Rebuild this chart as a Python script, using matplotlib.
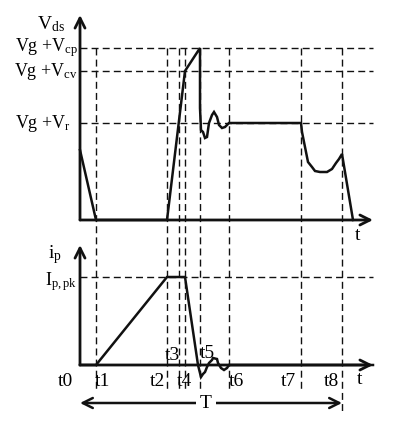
import matplotlib
matplotlib.use("Agg")
import matplotlib.pyplot as plt

plt.rcParams['font.family'] = ['Liberation Serif', 'DejaVu Serif']
plt.rcParams['mathtext.fontset'] = 'custom'
plt.rcParams['mathtext.rm'] = 'Liberation Serif'
plt.rcParams['mathtext.it'] = 'Liberation Serif'

# ---- data ----
t_marks = [16, 87, 99, 105, 120, 149, 221, 262]          # t1..t8
t_labels = ['t1', 't2', 't3', 't4', 't5', 't6', 't7', 't8']
v_levels = [172, 149, 97]                                  # Vg+Vcp, Vg+Vcv, Vg+Vr
v_level_labels = [r'Vg +V$_{\mathregular{cp}}$', r'Vg +V$_{\mathregular{cv}}$', r'Vg +V$_{\mathregular{r}}$']
ip_peak = 88

vds_t = [0, 16, 87, 105, 120, 120, 121, 123, 125, 127, 129, 132, 134, 137, 139, 142, 145, 148, 149,
         221, 222, 224, 226, 228, 232, 235, 240, 247, 252, 256, 259, 262, 273]
vds_v = [70, 0, 0, 149, 172, 112, 90, 88, 82, 83, 97, 105, 108, 103, 95, 92, 93, 96, 97,
         97, 88, 78, 68, 58, 53, 49, 48, 48, 51, 57, 61, 66, 0]

ip_t = [0, 16, 87, 105, 118, 121, 123, 125, 127, 129, 132, 133, 137, 138, 141, 144, 147, 149, 293]
ip_v = [0, 0, 88, 88, 0, -12, -9, -7, -2, 2, 5, 7, 6, 2, -3, -5, -3, 0, 0]

W, H = 400, 430
fig = plt.figure(figsize=(4, 4.3), dpi=100)
ax1 = fig.add_axes([80 / W, (H - 220) / H, 300 / W, 210 / H])
ax2 = fig.add_axes([80 / W, (H - 365) / H, 300 / W, 125 / H])
for ax, yl in ((ax1, 210), (ax2, 125)):
    ax.set_xlim(0, 300)
    ax.set_ylim(0, yl)
    ax.axis('off')

col = '#111111'
fs = 13
fs_t = 14
dash = (0, (5, 3))
arrow_kw = dict(arrowstyle='->', lw=2.0, color=col, mutation_scale=18, shrinkA=0, shrinkB=0)

# axes arrows
ax1.annotate('', xy=(0, 205), xytext=(0, 0), arrowprops=arrow_kw)
ax1.annotate('', xy=(293, 0), xytext=(0, 0), arrowprops=arrow_kw)
ax2.annotate('', xy=(0, 120), xytext=(0, 0), arrowprops=arrow_kw)
ax2.annotate('', xy=(293, 0), xytext=(0, 0), arrowprops=arrow_kw)

# dashed guide lines
for v in v_levels:
    ax1.plot([0, 293], [v, v], ls=dash, lw=1.0, color=col)
ax2.plot([0, 293], [ip_peak, ip_peak], ls=dash, lw=1.0, color=col)
for i, t in enumerate(t_marks):
    bottom = -193 if i == len(t_marks) - 1 else -170
    ax1.plot([t, t], [v_levels[0], bottom], ls=dash, lw=1.0, color=col, clip_on=False)

# waveforms
ax1.plot(vds_t, vds_v, color=col, lw=1.8, solid_joinstyle='miter', clip_on=False)
ax2.plot(ip_t, ip_v, color=col, lw=1.8, solid_joinstyle='miter', clip_on=False)

# labels upper
ax1.text(-15, 196, r'V$_{\mathregular{ds}}$', fontsize=fs_t, ha='right', va='center')
label_right = [-2, -2, -9]
for v, lab, xr in zip(v_levels, v_level_labels, label_right):
    ax1.text(xr, v, lab, fontsize=fs, ha='right', va='center')
ax1.text(278, -16, 't', fontsize=fs_t, ha='center', va='center')

# labels lower
ax2.text(-18, 110, r'i$_{\mathregular{p}}$', fontsize=fs_t, ha='right', va='center')
ax2.text(-3, ip_peak - 5, r'I$_{\mathregular{p,pk}}$', fontsize=fs, ha='right', va='center')
ax2.text(-15, -17, 't0', fontsize=fs_t, ha='center', va='center')
label_x = [22, 77, 92, 104, 127, 156, 208, 251]
label_y = [-17, -17, 10, -17, 11, -17, -17, -17]
for x, y, lab in zip(label_x, label_y, t_labels):
    ax2.text(x, y, lab, fontsize=fs_t, ha='center', va='center')
ax2.text(280, -15, 't', fontsize=fs_t, ha='center', va='center')

# period arrow
ax2.annotate('', xy=(0, -38), xytext=(t_marks[-1], -38),
             arrowprops=dict(arrowstyle='<->', lw=1.8, color=col, mutation_scale=18,
                             shrinkA=0, shrinkB=0), annotation_clip=False)
ax2.text(126, -38, 'T', fontsize=fs_t, ha='center', va='center',
         bbox=dict(facecolor='white', edgecolor='none', pad=3))

fig.savefig('out.png', dpi=100, facecolor='white')
